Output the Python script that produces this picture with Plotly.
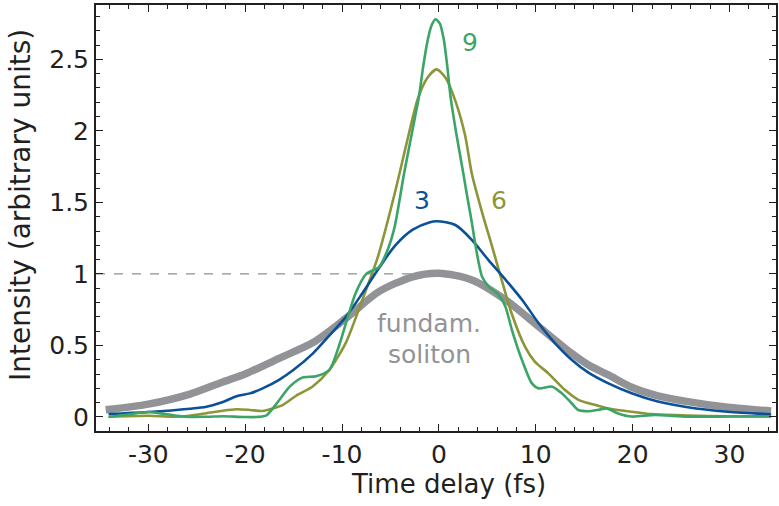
import plotly.graph_objects as go

# ---- data ----
t_fund = [-34.4, -30, -25.7, -22.3, -20, -16.5, -13.0, -9.6, -6.2, -2.7, 0, 3.4, 6.9, 10.3, 13.7, 15.4, 17.5, 19.9, 22.5, 25.7, 29.8, 34.3]
v_fund = [0.05, 0.09, 0.16, 0.245, 0.30, 0.41, 0.52, 0.69, 0.876, 0.98, 1.005, 0.958, 0.818, 0.632, 0.445, 0.365, 0.294, 0.208, 0.15, 0.107, 0.068, 0.042]

t_3 = [-34.1, -30, -25.7, -24, -22.3, -20.9, -19.5, -18.2, -16.5, -15.0, -13.0, -11.3, -9.6, -7.9, -6.2, -4.5, -2.7, -1.0, -0.2, 1.7, 3.4, 5.1, 6.9, 8.6, 10.3, 12.0, 13.7, 15.4, 17.5, 19.9, 22.5, 25.7, 29.8, 34.3]
v_3 = [0.021, 0.035, 0.058, 0.072, 0.105, 0.145, 0.165, 0.20, 0.26, 0.33, 0.445, 0.57, 0.70, 0.865, 1.04, 1.20, 1.31, 1.36, 1.368, 1.342, 1.238, 1.098, 0.958, 0.818, 0.655, 0.515, 0.40, 0.312, 0.235, 0.166, 0.11, 0.068, 0.037, 0.019]

t_6 = [-34.1, -30, -27.4, -25.7, -24, -22.3, -20.9, -19.5, -18.2, -17.1, -16.1, -14.7, -13.0, -11.3, -9.6, -7.9, -6.3, -4.5, -3.1, -2.2, -1.2, -0.24, 0.7, 1.7, 2.7, 3.4, 4.5, 5.5, 6.3, 7.5, 8.9, 9.9, 11.3, 13.0, 14.4, 16.1, 17.5, 19.9, 22.0, 25.7, 30, 34.3]
v_6 = [0.002, 0.009, 0.002, 0.009, 0.026, 0.044, 0.054, 0.049, 0.042, 0.061, 0.085, 0.15, 0.215, 0.33, 0.52, 0.82, 1.12, 1.58, 1.98, 2.22, 2.37, 2.43, 2.37, 2.21, 1.97, 1.70, 1.42, 1.19, 1.0, 0.725, 0.49, 0.387, 0.305, 0.19, 0.12, 0.085, 0.06, 0.037, 0.02, 0.01, 0.005, 0.005]

t_9 = [-34.1, -31.9, -30, -28.1, -26.3, -23.9, -22.3, -20.2, -18.8, -17.8, -16.8, -15.4, -14.1, -12.7, -11.3, -10.3, -9.6, -8.6, -7.5, -6.2, -5.4, -4.6, -3.6, -2.6, -2.06, -1.6, -1.2, -0.8, -0.35, 0.1, 0.5, 0.85, 1.2, 1.8, 2.4, 2.9, 3.4, 3.8, 4.46, 5.14, 6.17, 6.86, 7.54, 8.57, 9.6, 10.3, 11.7, 12.7, 13.7, 14.4, 15.4, 16.5, 17.3, 18.5, 19.9, 22.3, 25.7, 30, 34.3]
v_9 = [0.0, 0.019, 0.035, 0.019, 0.002, 0.002, 0.005, 0.0, 0.0, 0.012, 0.09, 0.212, 0.275, 0.285, 0.33, 0.50, 0.655, 0.865, 1.0, 1.047, 1.15, 1.32, 1.70, 2.05, 2.24, 2.46, 2.62, 2.73, 2.78, 2.75, 2.64, 2.46, 2.24, 1.98, 1.75, 1.55, 1.36, 1.19, 0.98, 0.911, 0.853, 0.772, 0.608, 0.399, 0.235, 0.2, 0.212, 0.165, 0.096, 0.049, 0.04, 0.05, 0.06, 0.025, 0.003, 0.014, 0.002, 0.003, 0.003]

ref_x = [-35.4, 0]
ref_y = [1, 1]

x_tickvals = [-30, -20, -10, 0, 10, 20, 30]
x_ticktext = ["-30", "-20", "-10", "0", "10", "20", "30"]
y_tickvals = [0, 0.5, 1, 1.5, 2, 2.5]
y_ticktext = ["0", "0.5", "1", "1.5", "2", "2.5"]

x_title = "Time delay (fs)"
y_title = "Intensity (arbitrary units)"

labels = [
    # text, x, y, colour key
    ("9", 3.2, 2.615, "9"),
    ("6", 6.2, 1.515, "6"),
    ("3", -1.75, 1.51, "3"),
    ("fundam.", -1.0, 0.657, "f"),
    ("soliton", -1.0, 0.434, "f"),
]

COL = {"f": "#929397", "3": "#0a5197", "6": "#8c9538", "9": "#3ba467"}
INK = "#231f20"
FONT = "DejaVu Sans"

fig = go.Figure()
fig.add_trace(go.Scatter(x=ref_x, y=ref_y, mode="lines",
                         line=dict(color="#8f8f8f", width=1.3, dash="dash"), hoverinfo="skip"))
fig.add_trace(go.Scatter(x=t_fund, y=v_fund, mode="lines",
                         line=dict(color=COL["f"], width=7.5, shape="spline", smoothing=0.8)))
fig.add_trace(go.Scatter(x=t_6, y=v_6, mode="lines",
                         line=dict(color=COL["6"], width=2.6, shape="spline", smoothing=0.7)))
fig.add_trace(go.Scatter(x=t_3, y=v_3, mode="lines",
                         line=dict(color=COL["3"], width=2.6, shape="spline", smoothing=0.8)))
fig.add_trace(go.Scatter(x=t_9, y=v_9, mode="lines",
                         line=dict(color=COL["9"], width=2.6, shape="spline", smoothing=0.7)))

for text, x, y, k in labels:
    fig.add_annotation(x=x, y=y, text=text, showarrow=False, xanchor="center", yanchor="middle",
                       font=dict(family=FONT, size=25, color=COL[k]))

# axis titles
fig.add_annotation(xref="paper", yref="paper", x=0.519, y=-0.125, text=x_title, showarrow=False,
                   xanchor="center", yanchor="middle", font=dict(family=FONT, size=26, color=INK))
fig.add_annotation(xref="paper", yref="paper", x=-0.112, y=0.53, text=y_title, showarrow=False,
                   textangle=-90, xanchor="center", yanchor="middle",
                   font=dict(family=FONT, size=28, color=INK))

axis_common = dict(showline=True, linecolor=INK, linewidth=2, mirror="allticks",
                   ticks="inside", ticklen=7, tickwidth=1.3, tickcolor=INK,
                   showgrid=False, zeroline=False,
                   tickfont=dict(family=FONT, size=25, color=INK))

fig.update_xaxes(range=[-35.4, 34.8], tickmode="array", tickvals=x_tickvals, ticktext=x_ticktext,
                 minor=dict(dtick=2, tick0=0, ticks="inside", ticklen=4, tickwidth=1.2, tickcolor=INK),
                 **axis_common)
fig.update_yaxes(range=[-0.098, 2.88], tickmode="array", tickvals=y_tickvals, ticktext=y_ticktext,
                 minor=dict(dtick=0.1, tick0=0, ticks="inside", ticklen=4, tickwidth=1.2, tickcolor=INK),
                 **axis_common)

fig.update_layout(width=779, height=506, margin=dict(l=96, r=1, t=5, b=75),
                  paper_bgcolor="white", plot_bgcolor="white", showlegend=False)

fig.write_html("out.html")
